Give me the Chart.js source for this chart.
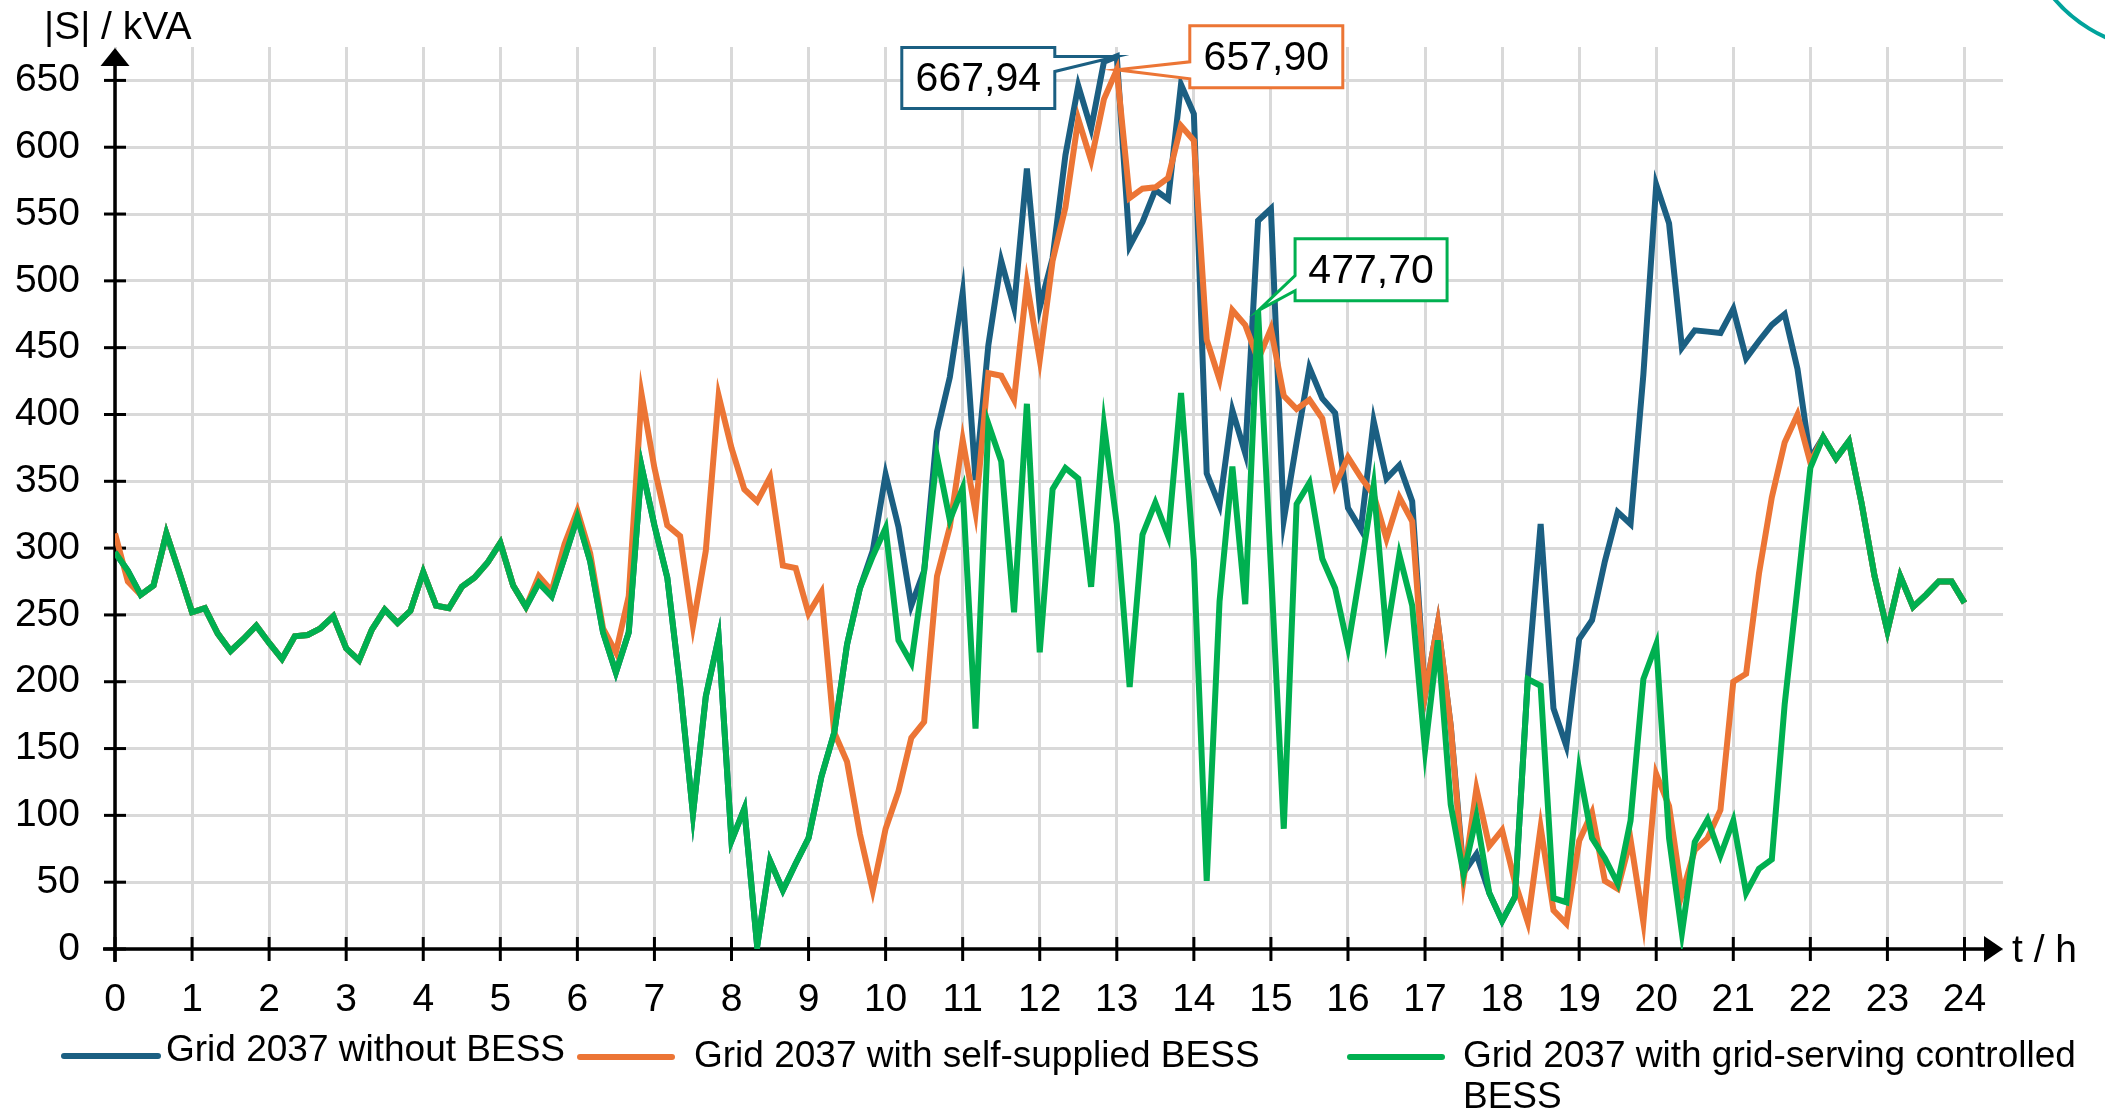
<!DOCTYPE html>
<html><head><meta charset="utf-8">
<script src="https://cdn.jsdelivr.net/npm/chart.js@4/dist/chart.umd.min.js"></script>
<style>html,body{margin:0;padding:0;background:#fff;}canvas{display:block;}</style>
</head><body>
<canvas id="c" width="2105" height="1118"></canvas>
<script>
// ---------- data (10-minute steps from 0 h to 24 h) ----------
const seriesNames = [
  'Grid 2037 without BESS',
  'Grid 2037 with self-supplied BESS',
  'Grid 2037 with grid-serving controlled BESS'
];
const stepsPerHour = 6;
const withoutBESS = [
  297,283,265,272,311,282,252,255,236,223,
  232,242,229,217,234,235,240,249,225,216,
  239,254,244,253,282,257,255,271,278,289,
  304,272,256,274,264,293,323,290,237,207,
  237,361,317,278,197,101,189,233,81,105,
  2,66,44,64,83,129,162,228,270,298,
  355,316,257,283,387,428,491,351,452,515,
  480,584,480,517,594,646,614,664,667.94,526,
  544,568,561,647,625,356,332,403,371,545,
  554,321,379,435,412,401,330,314,395,352,
  362,335,190,244,167,57,71,42,21,39,
  202,318,180,152,232,246,290,327,318,430,
  572,543,450,463,462,461,479,442,455,467,
  475,434,367,383,367,380,333,279,238,279,
  256,265,275,275,259
];
const selfSupplied = [
  311,275,265,272,311,282,252,255,236,223,
  232,242,229,217,234,235,240,249,225,216,
  239,254,244,253,282,257,255,271,278,289,
  304,272,256,279,268,303,328,296,240,222,
  264,415,360,317,309,242,298,414,375,344,
  335,353,287,285,251,267,162,140,86,44,
  90,118,158,170,279,316,381,327,431,429,
  411,498,441,515,555,621,590,636,657.90,562,
  569,570,577,616,605,456,426,478,467,441,
  464,414,404,411,397,347,368,353,340,307,
  338,320,190,244,167,52,120,77,89,50,
  20,91,29,19,81,102,51,45,82,20,
  131,107,41,74,83,104,200,206,281,338,
  379,400,364,383,367,380,333,279,238,279,
  256,265,275,275,259
];
const gridServing = [
  297,283,265,272,311,282,252,255,236,223,
  232,242,229,217,234,235,240,249,225,216,
  239,254,244,253,282,257,255,271,278,289,
  304,272,256,274,264,293,323,290,237,207,
  237,361,317,278,197,101,189,233,81,105,
  2,66,44,64,83,129,162,228,270,294,
  315,231,214,283,369,321,345,165,393,365,
  252,408,222,344,360,352,271,392,318,196,
  310,334,309,416,291,51,260,361,258,477.70,
  285,90,333,349,292,270,226,285,347,235,
  295,257,149,231,108,56,99,42,21,39,
  202,197,38,35,134,83,68,49,96,202,
  228,83,12,80,97,70,96,42,60,67,
  183,270,360,383,367,380,333,279,238,279,
  256,265,275,275,259
];
const xTickValues = [0,1,2,3,4,5,6,7,8,9,10,11,12,13,14,15,16,17,18,19,20,21,22,23,24];
const yTickValues = [0,50,100,150,200,250,300,350,400,450,500,550,600,650];
// labelled maxima: series index, time (h), value
const peakSeries = [0, 1, 2];
const peakTimes  = [13, 13, 14 + 5/6];
const peakValues = [667.94, 657.90, 477.70];

const xTitle = 't / h';
const yTitle = '|S| / kVA';

// ---------- style ----------
const FONT = "'Liberation Sans', Arial, sans-serif";
const COLORS = ['#1b5f82', '#ec7535', '#00b050'];
const GRID = '#d9d9d9';

const toPts = arr => arr.map((v, i) => ({ x: i / stepsPerHour, y: v }));

const axesPlugin = {
  id: 'axesArrows',
  beforeDatasetsDraw(chart) {
    const { ctx, chartArea: a, scales: { x, y } } = chart;
    const x0 = x.getPixelForValue(0), y0 = y.getPixelForValue(0);
    ctx.save();
    ctx.strokeStyle = '#000'; ctx.fillStyle = '#000'; ctx.lineWidth = 3.5;
    ctx.beginPath(); ctx.moveTo(x0, y0 + 13); ctx.lineTo(x0, a.top + 14); ctx.stroke();
    ctx.beginPath(); ctx.moveTo(x0, a.top + 1); ctx.lineTo(x0 - 14.5, a.top + 19); ctx.lineTo(x0 + 14.5, a.top + 19); ctx.closePath(); ctx.fill();
    ctx.beginPath(); ctx.moveTo(x0 - 12, y0); ctx.lineTo(a.right - 14, y0); ctx.stroke();
    ctx.beginPath(); ctx.moveTo(a.right, y0); ctx.lineTo(a.right - 19, y0 - 13); ctx.lineTo(a.right - 19, y0 + 13); ctx.closePath(); ctx.fill();
    ctx.lineWidth = 3;
    y.ticks.forEach(t => { const p = y.getPixelForValue(t.value); ctx.beginPath(); ctx.moveTo(x0 - 11, p); ctx.lineTo(x0 + 11, p); ctx.stroke(); });
    x.ticks.forEach(t => { const p = x.getPixelForValue(t.value); ctx.beginPath(); ctx.moveTo(p, y0 - 12); ctx.lineTo(p, y0 + 12); ctx.stroke(); });
    ctx.restore();
  }
};

// callout boxes: offsets relative to the labelled point
const calloutLayout = [
  { box: [-215, -9, 153, 61], side: 'right', wedge: [0, 15] },
  { box: [73, -44, 153, 62], side: 'left', wedge: [-8, 9] },
  { box: [37, -72, 152, 62], side: 'left', wedge: [-35, -20] }
];
const calloutPlugin = {
  id: 'callouts',
  afterDatasetsDraw(chart) {
    const { ctx, scales: { x, y } } = chart;
    ctx.save();
    peakSeries.forEach((si, k) => {
      const ax = x.getPixelForValue(peakTimes[k]), ay = y.getPixelForValue(peakValues[k]);
      const L = calloutLayout[k];
      const l = ax + L.box[0], t = ay + L.box[1], r = l + L.box[2], b = t + L.box[3];
      const w1 = ay + L.wedge[0], w2 = ay + L.wedge[1];
      ctx.beginPath();
      if (L.side === 'right') {
        ctx.moveTo(l, t); ctx.lineTo(r, t); ctx.lineTo(r, w1); ctx.lineTo(ax, ay); ctx.lineTo(r, w2);
        ctx.lineTo(r, b); ctx.lineTo(l, b); ctx.closePath();
      } else {
        ctx.moveTo(l, t); ctx.lineTo(r, t); ctx.lineTo(r, b); ctx.lineTo(l, b); ctx.lineTo(l, w2);
        ctx.lineTo(ax, ay); ctx.lineTo(l, w1); ctx.closePath();
      }
      ctx.fillStyle = '#fff'; ctx.fill();
      ctx.lineWidth = 3; ctx.lineJoin = 'miter'; ctx.strokeStyle = COLORS[si]; ctx.stroke();
      ctx.fillStyle = '#000'; ctx.font = '41px ' + FONT; ctx.textAlign = 'center'; ctx.textBaseline = 'middle';
      ctx.fillText(peakValues[k].toFixed(2).replace('.', ','), (l + r) / 2, (t + b) / 2 + 2);
    });
    ctx.restore();
  }
};

const legendLayout = [
  { lineX: 61, lineW: 100, y: 1056, textX: 166, textY: 1051 },
  { lineX: 577, lineW: 98, y: 1057, textX: 694, textY: 1057 },
  { lineX: 1347, lineW: 98, y: 1057, textX: 1463, textY: 1057 }
];
const decorPlugin = {
  id: 'decor',
  afterDraw(chart) {
    const { ctx, chartArea: a, scales: { y } } = chart;
    ctx.save();
    ctx.fillStyle = '#000'; ctx.font = '39px ' + FONT;
    ctx.textAlign = 'left'; ctx.textBaseline = 'alphabetic';
    ctx.fillText(yTitle, 44, 39);
    ctx.textBaseline = 'middle';
    ctx.fillText(xTitle, a.right + 9, y.getPixelForValue(0) + 2);
    // legend
    chart.data.datasets.forEach((ds, i) => {
      const L = legendLayout[i];
      ctx.strokeStyle = ds.borderColor; ctx.lineWidth = 6; ctx.lineCap = 'round';
      ctx.beginPath(); ctx.moveTo(L.lineX + 3, L.y); ctx.lineTo(L.lineX + L.lineW - 3, L.y); ctx.stroke();
      ctx.fillStyle = '#000'; ctx.font = '37px ' + FONT; ctx.textBaseline = 'middle';
      const maxW = chart.width - L.textX - 10;
      const words = ds.label.split(' ');
      let line = '', lines = [];
      words.forEach(w => {
        const test = line ? line + ' ' + w : w;
        if (ctx.measureText(test).width > maxW && line) { lines.push(line); line = w; } else line = test;
      });
      lines.push(line);
      lines.forEach((s, j) => ctx.fillText(s, L.textX, L.textY + j * 41));
    });
    // corner decoration
    ctx.strokeStyle = '#00a39c'; ctx.lineWidth = 4; ctx.lineCap = 'butt';
    ctx.beginPath(); ctx.arc(2165, -95, 145, Math.PI * 0.5, Math.PI * 0.85); ctx.stroke();
    ctx.restore();
  }
};

const tickFont = { family: FONT, size: 39 };
new Chart(document.getElementById('c'), {
  type: 'line',
  data: {
    datasets: [
      { label: seriesNames[0], data: toPts(withoutBESS), borderColor: COLORS[0], order: 3 },
      { label: seriesNames[1], data: toPts(selfSupplied), borderColor: COLORS[1], order: 2 },
      { label: seriesNames[2], data: toPts(gridServing), borderColor: COLORS[2], order: 1 }
    ]
  },
  options: {
    responsive: false, animation: false, devicePixelRatio: 1,
    layout: { padding: { left: 0, right: 102, top: 47, bottom: 0 } },
    elements: { line: { borderWidth: 6, tension: 0, fill: false, borderJoinStyle: 'miter' }, point: { radius: 0 } },
    plugins: { legend: { display: false }, tooltip: { enabled: false } },
    scales: {
      x: {
        type: 'linear', min: 0, max: 24.5,
        afterBuildTicks: s => { s.ticks = xTickValues.map(v => ({ value: v })); },
        afterFit: s => { s.height = 169; s.paddingLeft = 0; s.paddingRight = 0; },
        ticks: { autoSkip: false, maxRotation: 0, padding: 28, color: '#000', font: tickFont },
        grid: { color: GRID, lineWidth: 3, drawTicks: false },
        border: { display: false }
      },
      y: {
        min: 0, max: 675,
        afterBuildTicks: s => { s.ticks = yTickValues.map(v => ({ value: v })); },
        afterFit: s => { s.width = 115; s.paddingTop = 0; s.paddingBottom = 0; },
        ticks: { autoSkip: false, padding: 35, color: '#000', font: tickFont },
        grid: { color: GRID, lineWidth: 3, drawTicks: false },
        border: { display: false }
      }
    }
  },
  plugins: [axesPlugin, calloutPlugin, decorPlugin]
});
</script>
</body></html>
